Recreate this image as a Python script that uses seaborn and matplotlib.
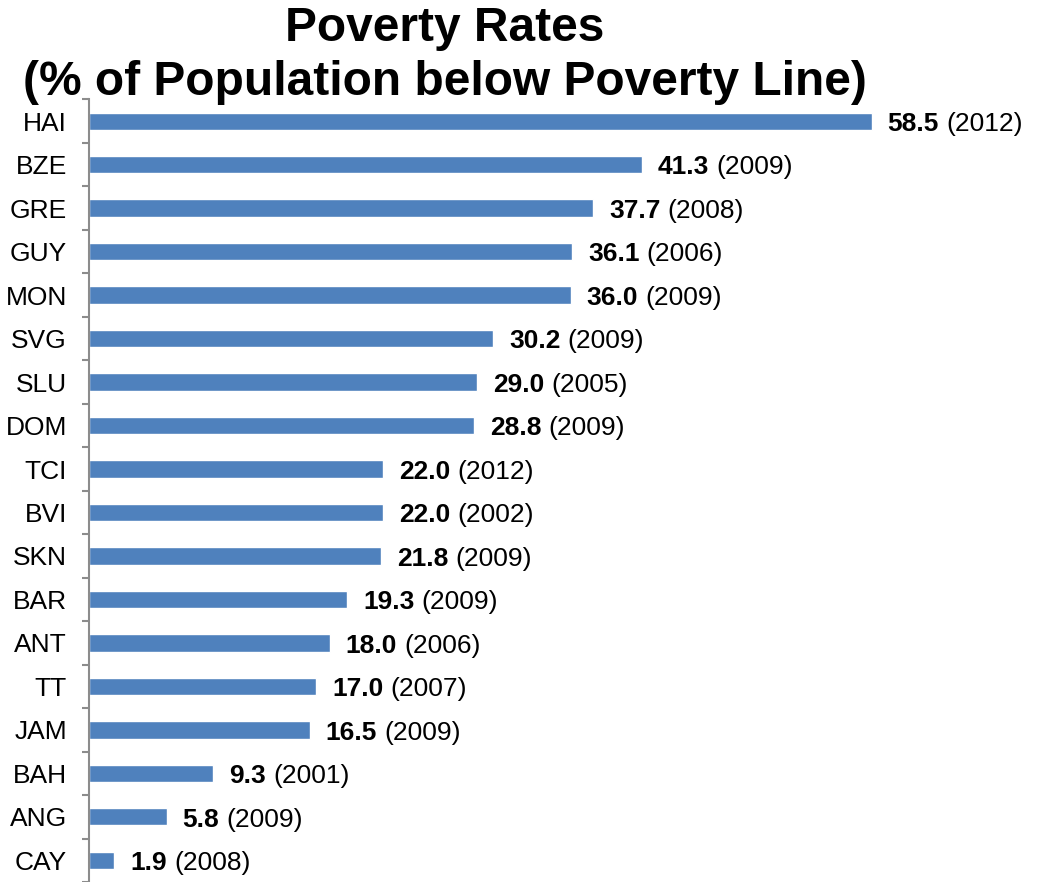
import matplotlib
matplotlib.use("Agg")
import matplotlib.pyplot as plt
import seaborn as sns
import pandas as pd
import numpy as np

countries = ["HAI", "BZE", "GRE", "GUY", "MON", "SVG", "SLU", "DOM", "TCI", "BVI",
             "SKN", "BAR", "ANT", "TT", "JAM", "BAH", "ANG", "CAY"]
rates = [58.5, 41.3, 37.7, 36.1, 36.0, 30.2, 29.0, 28.8, 22.0, 22.0,
         21.8, 19.3, 18.0, 17.0, 16.5, 9.3, 5.8, 1.9]
years = ["2012", "2009", "2008", "2006", "2009", "2009", "2005", "2009", "2012", "2002",
         "2009", "2009", "2006", "2007", "2009", "2001", "2009", "2008"]

sns.set_theme(style="white")
plt.rcParams['font.family'] = ['Liberation Sans', 'DejaVu Sans']
plt.rcParams['text.color'] = 'black'

df = pd.DataFrame({"country": countries, "rate": rates, "year": years})

fig = plt.figure(figsize=(10.39, 8.82), dpi=100)
ax = fig.add_axes([89 / 1039, 0.0, 1 - 89 / 1039, (882 - 99.5) / 882])

sns.barplot(data=df, x="rate", y="country", orient="h", color="#4F81BD",
            saturation=1, width=0.4, ax=ax)

ax.set_xlim(0, 71)
ax.set_ylim(len(countries) - 0.5, -0.5)
ax.set_xlabel("")
ax.set_ylabel("")
ax.set_xticks([])

for s in ["top", "right", "bottom"]:
    ax.spines[s].set_visible(False)
ax.spines["left"].set_color("#8C8C8C")
ax.spines["left"].set_linewidth(1.5)

ax.set_yticks(np.arange(len(countries)))
ax.set_yticklabels(countries, fontsize=19, color="black")
ax.set_yticks(np.arange(len(countries) + 1) - 0.5, minor=True)
ax.tick_params(axis="y", which="major", length=0, pad=16)
ax.tick_params(axis="y", which="minor", length=5, width=1.5, color="#8C8C8C", left=True)

for i, (r, y) in enumerate(zip(rates, years)):
    t = ax.annotate(f"{r:.1f}", xy=(r, i), xytext=(11.5, -2), textcoords="offset points",
                    ha="left", va="center", fontsize=19, fontweight="bold", color="black")
    ax.annotate(f"({y})", xy=(1, 0.5), xycoords=t, xytext=(5, 0), textcoords="offset points",
                ha="left", va="center", fontsize=19, color="black")

fig.text(445 / 1039, 1 - 41 / 882, "Poverty Rates", ha="center", va="baseline",
         fontsize=34.5, fontweight="bold", color="black")
fig.text(445 / 1039, 1 - 95 / 882, "(% of Population below Poverty Line)", ha="center",
         va="baseline", fontsize=34.5, fontweight="bold", color="black")

fig.savefig("out.png", dpi=100)
